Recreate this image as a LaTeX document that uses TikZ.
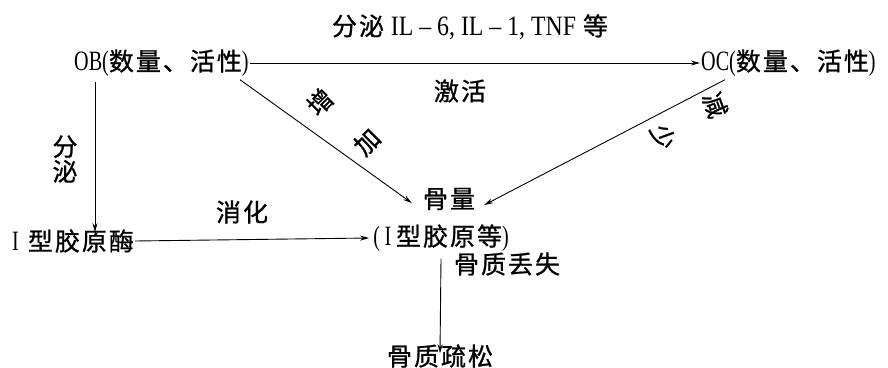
\documentclass[tikz,border=0pt]{standalone}
\usepackage{fontspec}
\setmainfont{Liberation Serif}[FakeStretch=0.72]
\newfontfamily\latw{Liberation Serif}[FakeStretch=0.85]
\newfontfamily\cjk{Noto Sans CJK SC}[LetterSpace=8,FakeBold=0.9]
\usetikzlibrary{arrows.meta}
\newcommand{\zh}[1]{{\cjk #1}}
\newcommand{\la}[1]{{\fontsize{28}{30}\selectfont #1}}
\begin{document}
\begin{tikzpicture}[x=1pt,y=-1pt,
  lbl/.style={inner sep=1pt,font=\fontsize{25}{28}\selectfont},
  conn/.style={line width=0.9pt,-{Stealth[length=9pt,width=5pt]}},
  plain/.style={line width=0.9pt}]
\useasboundingbox (0,0) rectangle (888,367);
\node[lbl] (top) at (470,27) {\zh{分泌}\;{\latw\fontsize{28}{30}\selectfont IL – 6, IL – 1, TNF}\;\zh{等}};
\node[lbl,anchor=west] (OB) at (73,63) {\la{OB(}\zh{数量、活性}\la{)}};
\node[lbl,anchor=west] (OC) at (700,63) {\la{OC(}\zh{数量、活性}\la{)}};
\node[lbl] (act) at (460,91) {\zh{激活}};
\node[lbl,rotate=45] (z1) at (320,102) {\zh{增}};
\node[lbl,rotate=45] (z2) at (367,142) {\zh{加}};
\node[lbl,rotate=-70] (j1) at (715,105) {\zh{减}};
\node[lbl,rotate=-70] (j2) at (663,137) {\zh{少}};
\node[lbl,align=center] (fm) at (65,159) {\zh{分}\\[-3pt]\zh{泌}};
\node[lbl] (BL) at (449,199) {\zh{骨量}};
\node[lbl] (G) at (441,238) {\la{(\,I\,}\zh{型胶原等}\la{)}};
\node[lbl,anchor=west] (E) at (11,241) {\la{I}\hspace{9pt}\zh{型胶原酶}};
\node[lbl] (xh) at (242,212) {\zh{消化}};
\node[lbl] (loss) at (507,264) {\zh{骨质丢失}};
\node[lbl] (S) at (440,356) {\zh{骨质疏松}};
\draw[conn] (OB.east) -- (OC.west);
\draw[conn] ([xshift=167pt,yshift=-2pt]OB.south west) -- ([xshift=-10pt,yshift=-4pt]BL.west);
\draw[conn] ([xshift=25pt,yshift=-2pt]OC.south west) -- ([xshift=8pt,yshift=-6pt]BL.east);
\draw[conn] ([xshift=22pt,yshift=-4pt]OB.south west) -- ([xshift=22pt,yshift=-4pt]OB.south west |- E.north);
\draw[conn] (E.east) -- ([xshift=-3pt]G.west);
\draw[conn] ([yshift=-6pt]G.south) -- ([yshift=-10pt]S.north);
\end{tikzpicture}
\end{document}
